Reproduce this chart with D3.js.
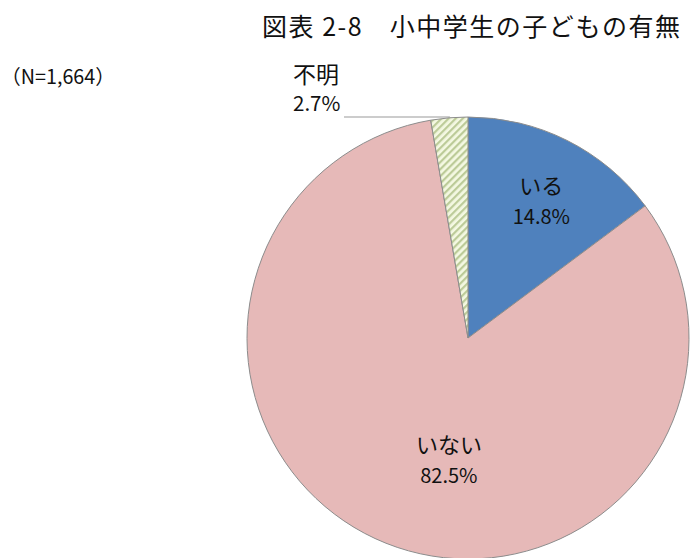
<!DOCTYPE html>
<html>
<head>
<meta charset="utf-8">
<script src="https://cdn.jsdelivr.net/npm/d3@7"></script>
<style>
  body { margin: 0; background: #fff; }
  svg { display: block; font-family: "Noto Sans CJK JP", "Noto Sans", sans-serif; }
</style>
</head>
<body>
<svg id="chart" width="692" height="558"></svg>
<script>
/* DATA */
const categories = ["いる", "いない", "不明"];
const percents = [14.8, 82.5, 2.7];
const colors = ["#4f81bd", "#e6b9b8", "url(#hatch)"];

const width = 692, height = 558;
const cx = 468, cy = 338, radius = 221;

const svg = d3.select("#chart");

// hatch pattern for the "不明" slice
const defs = svg.append("defs");
const pat = defs.append("pattern")
  .attr("id", "hatch")
  .attr("patternUnits", "userSpaceOnUse")
  .attr("width", 5).attr("height", 5)
  .attr("patternTransform", "rotate(45)");
pat.append("rect").attr("width", 5).attr("height", 5).attr("fill", "#f4f8e2");
pat.append("rect").attr("width", 2.2).attr("height", 5).attr("fill", "#bccb98");

// title
svg.append("text")
  .attr("x", 262).attr("y", 36)
  .attr("font-size", 25)
  .attr("fill", "#111")
  .attr("textLength", 418)
  .attr("lengthAdjust", "spacing")
  .text("図表 2-8　小中学生の子どもの有無");

// N (fullwidth parens carry wide side bearings, hence the wider box)
svg.append("text")
  .attr("x", 1).attr("y", 84)
  .attr("font-size", 20)
  .attr("fill", "#111")
  .attr("textLength", 114)
  .attr("lengthAdjust", "spacingAndGlyphs")
  .text("（N=1,664）");

const pie = d3.pie().sort(null).value(d => d);
const arcs = pie(percents);
const arc = d3.arc().innerRadius(0).outerRadius(radius);

const g = svg.append("g").attr("transform", `translate(${cx},${cy})`);

g.selectAll("path")
  .data(arcs)
  .join("path")
  .attr("d", arc)
  .attr("fill", (d, i) => colors[i])
  .attr("stroke", "#8c8c8c")
  .attr("stroke-width", 1);

// labels inside: label radius / horizontal nudge per slice (Excel-ish placement)
const labelPos = [{ k: 0.74, dx: 0, dy: 0 }, { k: 0.55, dx: 26, dy: 0 }];
labelPos.forEach((p, i) => {
  const a = (arcs[i].startAngle + arcs[i].endAngle) / 2;
  const x = radius * p.k * Math.sin(a) + p.dx;
  const y = -radius * p.k * Math.cos(a) + p.dy;
  const lg = g.append("g").attr("transform", `translate(${x},${y})`);
  lg.append("text").attr("y", 2).attr("text-anchor", "middle")
    .attr("font-size", 22).attr("fill", "#111").text(categories[i]);
  lg.append("text").attr("y", 32).attr("text-anchor", "middle")
    .attr("font-size", 20).attr("fill", "#111").text(percents[i].toFixed(1) + "%");
});

// outside label for 不明 with leader line
const lx = 293;
svg.append("text").attr("x", lx).attr("y", 83)
  .attr("font-size", 23).attr("fill", "#111").text(categories[2]);
svg.append("text").attr("x", lx).attr("y", 111)
  .attr("font-size", 20.5).attr("fill", "#111").text(percents[2].toFixed(1) + "%");

const mid = (arcs[2].startAngle + arcs[2].endAngle) / 2;
const edge = [cx + radius * Math.sin(mid), cy - radius * Math.cos(mid)];
svg.append("polyline")
  .attr("points", `344,117 ${edge[0]},117 ${edge[0]},${edge[1]}`)
  .attr("fill", "none")
  .attr("stroke", "#999")
  .attr("stroke-width", 1.2);
</script>
</body>
</html>
